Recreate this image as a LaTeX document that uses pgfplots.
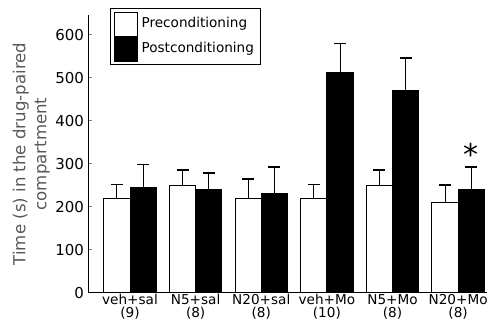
\documentclass[border=0pt]{standalone}
\usepackage{fontspec}
\setmainfont{DejaVu Sans}
\usepackage{pgfplots}
\pgfplotsset{compat=1.18}
\begin{document}
\begin{tikzpicture}
\path[use as bounding box] (-44.5pt,-15.5pt) rectangle (199pt,146.5pt);
\begin{axis}[
  at={(0,0)}, anchor=south west,
  scale only axis, width=199pt, height=139pt,
  xmin=-0.625, xmax=5.44, ymin=0, ymax=646,
  axis lines*=left, axis line style={-, line width=0.5pt},
  ybar=0pt, bar width=0.4,
  xtick={0,1,2,3,4,5},
  xticklabels={{veh+sal\\(9)},{N5+sal\\(8)},{N20+sal\\(8)},{veh+Mo\\(10)},{N5+Mo\\(8)},{N20+Mo\\(8)}},
  xticklabel style={align=center, font=\fontsize{6.8}{6.4}\selectfont, inner sep=1pt, yshift=0.5pt},
  x tick style={draw=none},
  ytick={0,100,...,600},
  tick align=inside, major tick length=1.5pt,
  y tick style={line width=0.5pt},
  /pgf/number format/assume math mode=true,
  yticklabel style={font=\fontsize{7.5}{7.5}\selectfont, xshift=1pt},
  ylabel={Time (s) in the drug-paired\\compartment},
  ylabel style={at={(axis description cs:-0.145,0.5)}, anchor=center, align=center,
    font=\fontsize{8.3}{10.5}\selectfont, text=black!65},
  legend style={at={(axis description cs:0.053,1.025)}, anchor=north west,
    draw=black, line width=0.5pt, inner sep=1.5pt, row sep=0pt,
    font=\fontsize{6.8}{7}\selectfont, cells={anchor=west}},
  legend image code/.code={\draw[#1, draw=black, line width=0.5pt] (0pt,-6pt) rectangle (11.5pt,6pt);},
  legend cell align=left,
]
\addplot+[fill=white, draw=black, line width=0.5pt,
  error bars/.cd, y dir=plus, y explicit,
  error bar style={black, line width=0.5pt},
  error mark options={black, rotate=90, mark size=3pt, line width=0.6pt}]
  coordinates {(0,220) +- (0,33) (1,249) +- (0,37) (2,219) +- (0,46)
               (3,220) +- (0,33) (4,249) +- (0,37) (5,211) +- (0,40)};
\addplot+[fill=black, draw=black, line width=0.5pt,
  error bars/.cd, y dir=plus, y explicit,
  error bar style={black, line width=0.5pt},
  error mark options={black, rotate=90, mark size=3pt, line width=0.6pt}]
  coordinates {(0,246) +- (0,52) (1,241) +- (0,38) (2,232) +- (0,61)
               (3,512) +- (0,67) (4,470) +- (0,76) (5,240) +- (0,53)};
\legend{Preconditioning, Postconditioning}
\node[font=\fontsize{15}{15}\selectfont, inner sep=0pt] at (axis cs:5.2,322) {*};
\end{axis}
\end{tikzpicture}
\end{document}
